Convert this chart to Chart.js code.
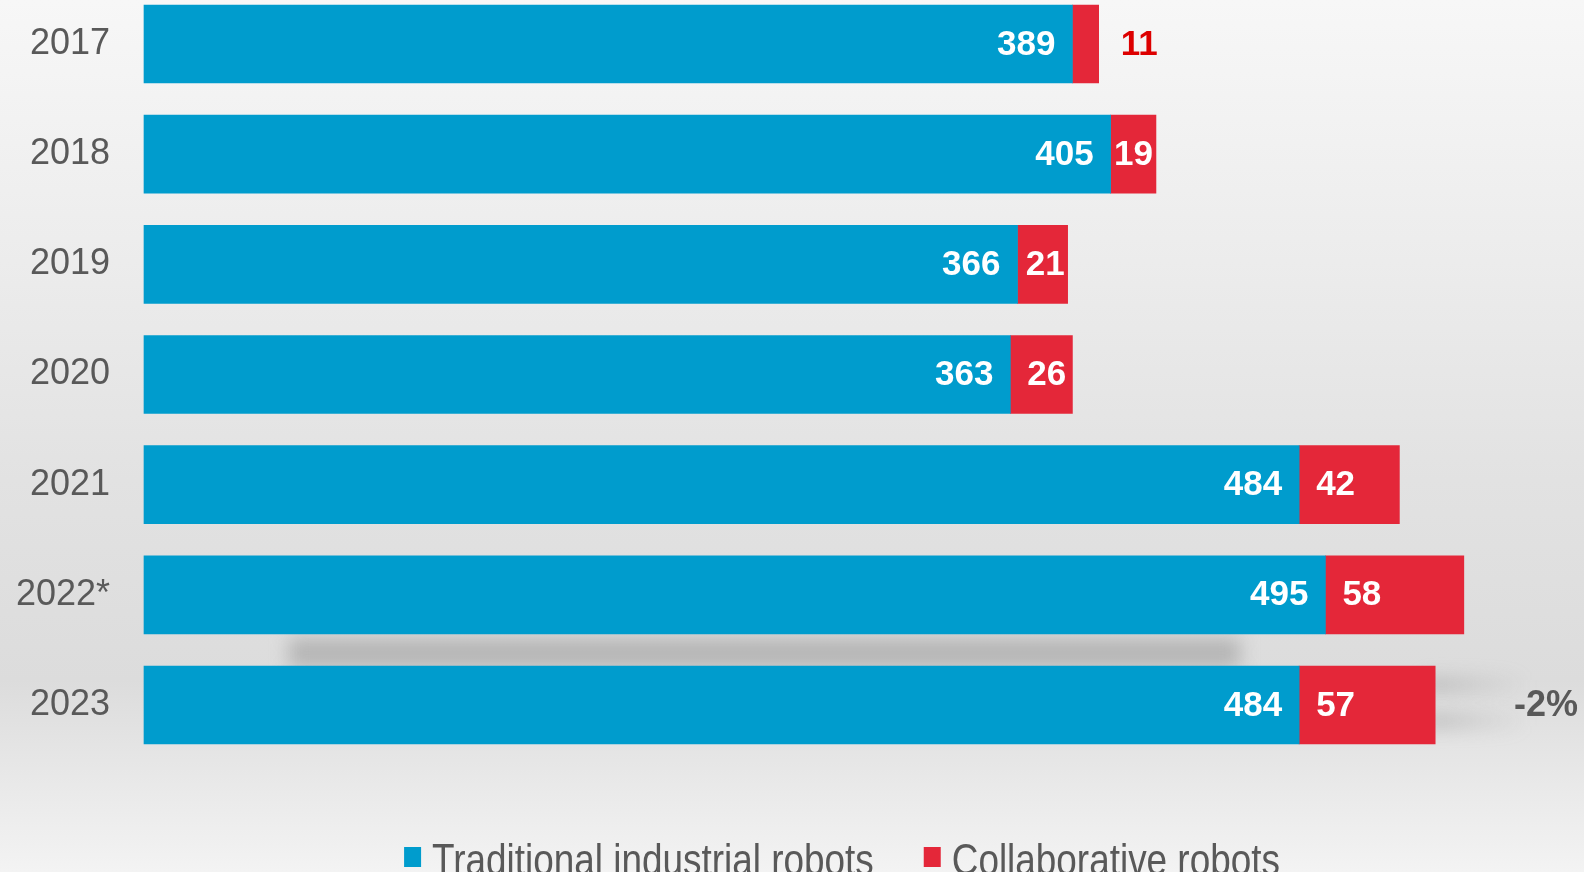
<!DOCTYPE html>
<html>
<head>
<meta charset="utf-8">
<script src="https://cdn.jsdelivr.net/npm/chart.js@4.4.0/dist/chart.umd.min.js"></script>
<style>
  html, body { margin: 0; padding: 0; overflow: hidden; }
  body {
    width: 1584px;
    height: 872px;
    background: linear-gradient(to bottom, #f7f7f7 0%, #ececec 30%, #e2e2e2 55%, #dcdcdc 78%, #e9e9e9 90%, #f3f3f3 100%);
  }
  #wrap { position: relative; width: 1584px; height: 872px; }
</style>
</head>
<body>
<div id="wrap"><canvas id="robots-chart"></canvas></div>
<script>
const years = ['2017', '2018', '2019', '2020', '2021', '2022*', '2023'];
const traditional = [389, 405, 366, 363, 484, 495, 484];
const collaborative = [11, 19, 21, 26, 42, 58, 57];
const seriesNames = ['Traditional industrial robots', 'Collaborative robots'];
const changeLabel = '-2%';

const BLUE = '#009ccd';
const RED = '#e42739';
const GREY_TEXT = '#595959';
const FONT = '"Liberation Sans", Arial, sans-serif';

// soft shadow behind the last bar
const lastBarShadow = {
    id: 'lastBarShadow',
    beforeDatasetsDraw(chart) {
        const ctx = chart.ctx;
        const blue = chart.getDatasetMeta(0).data;
        const red = chart.getDatasetMeta(1).data;
        const i = blue.length - 1;
        const b = blue[i], r = red[i];
        const top = b.y - b.height / 2;
        const bottom = b.y + b.height / 2;
        ctx.save();
        ctx.filter = 'blur(9px)';
        ctx.fillStyle = 'rgba(150,150,150,0.55)';
        ctx.fillRect(b.base + 145, top - 28, r.x - b.base - 340, 30);
        const g = ctx.createLinearGradient(r.x, 0, r.x + 90, 0);
        g.addColorStop(0, 'rgba(160,160,160,0.55)');
        g.addColorStop(1, 'rgba(160,160,160,0)');
        ctx.fillStyle = g;
        ctx.fillRect(r.x - 10, top + 12, 100, 14);
        ctx.fillRect(r.x - 10, bottom - 30, 100, 14);
        ctx.restore();
    }
};

// values written on the bars
const valueLabels = {
    id: 'valueLabels',
    afterDatasetsDraw(chart) {
        const ctx = chart.ctx;
        ctx.save();
        ctx.font = 'bold 35px ' + FONT;
        ctx.textBaseline = 'middle';
        const blue = chart.getDatasetMeta(0).data;
        const red = chart.getDatasetMeta(1).data;
        blue.forEach((bar, i) => {
            ctx.fillStyle = '#ffffff';
            ctx.textAlign = 'right';
            ctx.fillText(String(traditional[i]), bar.x - 17, bar.y + 1);
        });
        red.forEach((bar, i) => {
            const txt = String(collaborative[i]);
            const w = ctx.measureText(txt).width;
            let left = Math.min(bar.base + 17, bar.x - w - 3);
            ctx.textAlign = 'left';
            if (left < bar.base + 3) {
                ctx.fillStyle = '#dd0000';
                left = bar.x + 22;
            } else {
                ctx.fillStyle = '#ffffff';
            }
            ctx.fillText(txt, left, bar.y + 1);
        });
        const last = red[red.length - 1];
        ctx.font = 'bold 36px ' + FONT;
        ctx.fillStyle = GREY_TEXT;
        ctx.textAlign = 'right';
        ctx.fillText(changeLabel, chart.chartArea.right + 2, last.y + 1);
        ctx.restore();
    }
};

// condensed legend at the bottom
const bottomLegend = {
    id: 'bottomLegend',
    afterDraw(chart) {
        const ctx = chart.ctx;
        const squeeze = 0.82;
        const gap = 11, boxW = 17, boxH = 20, spacing = 50;
        ctx.save();
        ctx.font = '45px ' + FONT;
        const items = chart.data.datasets.map(ds => ({
            text: ds.label,
            color: ds.backgroundColor,
            w: ctx.measureText(ds.label).width * squeeze
        }));
        const total = items.reduce((s, it) => s + boxW + gap + it.w, 0) + spacing * (items.length - 1);
        let x = 842 - total / 2;
        const baseline = 875;
        items.forEach(it => {
            ctx.fillStyle = it.color;
            ctx.fillRect(x, baseline - 28, boxW, boxH);
            x += boxW + gap;
            ctx.save();
            ctx.translate(x, baseline);
            ctx.scale(squeeze, 1);
            ctx.fillStyle = GREY_TEXT;
            ctx.textAlign = 'left';
            ctx.textBaseline = 'alphabetic';
            ctx.fillText(it.text, 0, 0);
            ctx.restore();
            x += it.w + spacing;
        });
        ctx.restore();
    }
};

const ctx = document.getElementById('robots-chart').getContext('2d');
const chart = new Chart(ctx, {
    type: 'bar',
    data: {
        labels: years,
        datasets: [{
            label: seriesNames[0],
            data: traditional,
            backgroundColor: BLUE,
            barThickness: 78,
            clip: false
        }, {
            label: seriesNames[1],
            data: collaborative,
            backgroundColor: RED,
            barThickness: 78,
            clip: false
        }]
    },
    options: {
        indexAxis: 'y',
        responsive: true,
        maintainAspectRatio: false,
        animation: false,
        layout: {
            autoPadding: false,
            padding: { top: 44, right: 8, bottom: 167, left: 0 }
        },
        scales: {
            x: {
                display: false,
                stacked: true,
                min: 0,
                max: 600
            },
            y: {
                stacked: true,
                offset: false,
                grid: { display: false, drawTicks: false },
                border: { display: false },
                ticks: {
                    padding: 34,
                    color: GREY_TEXT,
                    font: { family: FONT, size: 36 }
                },
                afterFit: (scale) => {
                    scale.width = 144;
                    scale.paddingTop = 0;
                    scale.paddingBottom = 0;
                }
            }
        },
        plugins: {
            legend: { display: false },
            tooltip: { enabled: false }
        }
    },
    plugins: [lastBarShadow, valueLabels, bottomLegend]
});
</script>
</body>
</html>
